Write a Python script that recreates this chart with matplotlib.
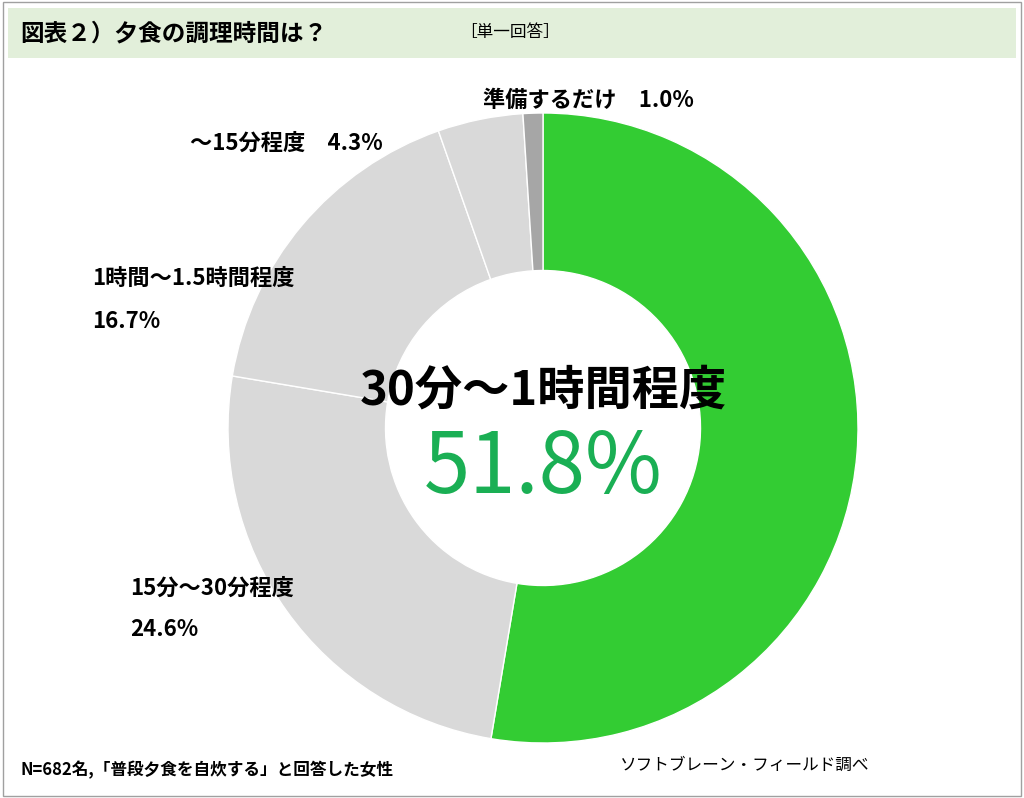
import matplotlib
matplotlib.use("Agg")
import matplotlib.pyplot as plt
from matplotlib.patches import Rectangle

plt.rcParams['font.family'] = ['Noto Sans CJK JP', 'DejaVu Sans']

labels = ["30分～1時間程度", "15分～30分程度", "1時間～1.5時間程度", "～15分程度", "準備するだけ"]
values = [51.8, 24.6, 16.7, 4.3, 1.0]
colors = ["#33CC33", "#D9D9D9", "#D9D9D9", "#D9D9D9", "#A6A6A6"]

W, H = 1024, 798
fig = plt.figure(figsize=(W/100, H/100), dpi=100)
fig.patches.append(Rectangle((0.003, 0.003), 0.994, 0.994, transform=fig.transFigure,
                             fill=False, edgecolor="#A0A0A0", lw=1))
fig.patches.append(Rectangle((8/W, 1-58/H), 1008/W, 50/H, transform=fig.transFigure,
                             facecolor="#E2EFDA", edgecolor="none"))
fig.text(20/W, 1-33/H, "図表２）夕食の調理時間は？", fontsize=17, fontweight="bold", va="center")
fig.text(460/W, 1-33/H, "［単一回答］", fontsize=12, va="center")

cx, cy, R = 543, 428, 315
ax = fig.add_axes([(cx-R)/W, 1-(cy+R)/H, 2*R/W, 2*R/H])
ax.pie(values, colors=colors, startangle=90, counterclock=False,
       wedgeprops=dict(width=0.5, edgecolor="white", linewidth=1))
ax.set_xlim(-1, 1); ax.set_ylim(-1, 1)
ax.set_aspect("equal")
ax.axis("off")

ax.text(0, 0.12, labels[0], fontsize=34, fontweight="bold", ha="center", va="center")
ax.text(0, -0.13, f"{values[0]}%", fontsize=60, color="#1AAF54", ha="center", va="center")

def ft(x, y, s, **kw):
    fig.text(x/W, 1-y/H, s, fontsize=16, fontweight="bold", va="center", **kw)

ft(483, 100, f"{labels[4]}　{values[4]}%")
ft(190, 143, f"{labels[3]}　{values[3]}%")
ft(92, 278, labels[2])
ft(92, 322, f"{values[2]}%")
ft(130, 588, labels[1])
ft(130, 630, f"{values[1]}%")

fig.text(20/W, 1-770/H, "N=682名,「普段夕食を自炊する」と回答した女性", fontsize=12, fontweight="bold", va="center")
fig.text(620/W, 1-765/H, "ソフトブレーン・フィールド調べ", fontsize=12, va="center")

fig.savefig("out.png", dpi=100)
